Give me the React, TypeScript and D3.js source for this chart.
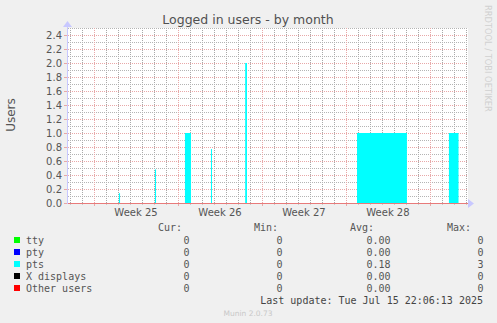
import React from "react";
import * as d3 from "d3";

const title = "Logged in users - by month";
const yLabel = "Users";
const yTicks = [0, 0.2, 0.4, 0.6, 0.8, 1.0, 1.2, 1.4, 1.6, 1.8, 2.0, 2.2, 2.4];
const weekLabels = ["Week 25", "Week 26", "Week 27", "Week 28"];
const weekStartDays = [0, 7, 14, 21];

// pts samples (days since start of Week 25, value)
const ptsStart = [2.08, 5.08, 7.58, 9.75, 12.6, 21.92, 29.58];
const ptsEnd = [2.17, 5.17, 8.08, 9.83, 12.75, 26.08, 30.38];
const ptsValue = [0.14, 0.48, 1.0, 0.77, 2.0, 1.0, 1.0];

const legendNames = ["tty", "pty", "pts", "X displays", "Other users"];
const legendColors = ["#00ff00", "#0000ff", "#00ffff", "#000000", "#ff0000"];
const curVals = ["0", "0", "0", "0", "0"];
const minVals = ["0", "0", "0", "0", "0"];
const avgVals = ["0.00", "0.00", "0.18", "0.00", "0.00"];
const maxVals = ["0", "0", "3", "0", "0"];

const lastUpdate = "Last update: Tue Jul 15 22:06:13 2025";
const footer = "Munin 2.0.73";
const sideText = "RRDTOOL / TOBI OETIKER";

export default function App() {
  const W = 497, H = 323;
  const left = 67, right = 468, top = 28, bottom = 203;
  const x = d3.scaleLinear().domain([-2.25, 31.17]).range([left, right]);
  const y = d3.scaleLinear().domain([0, 2.5]).range([bottom, top]);
  const minorDays = d3.range(-2, 32);
  const minorY = d3.range(0.1, 2.51, 0.2);
  const mono = "'DejaVu Sans Mono', monospace";
  const sans = "'DejaVu Sans', sans-serif";
  const rowY = [240, 252, 264, 276, 288];
  const r = (v: number) => Math.round(v);
  const gray = "#b4b4b4";
  const red = "#e8a8a8";

  // dotted vertical minor grid built as one path of 1x1 dots
  const vPath = d3.path();
  minorDays.filter(d => d % 7 !== 0).forEach(d => {
    const xx = r(x(d));
    for (let yy = top; yy < bottom; yy += 2) {
      vPath.rect(xx, yy, 1, 1);
    }
  });

  return (
    <svg width={W} height={H} style={{ position: "absolute", left: 0, top: 0, display: "block" }}>
      <defs>
        <pattern id="hg" patternUnits="userSpaceOnUse" width={2} height={1}>
          <rect x={0} y={0} width={1} height={1} fill={gray} />
        </pattern>
        <pattern id="vr" patternUnits="userSpaceOnUse" width={1} height={2}>
          <rect x={0} y={0} width={1} height={1} fill={red} />
        </pattern>
        <pattern id="hr" patternUnits="userSpaceOnUse" width={2} height={1}>
          <rect x={0} y={0} width={1} height={1} fill={red} />
        </pattern>
      </defs>
      <rect x={0} y={0} width={W} height={H} fill="#f0f0f0" />
      <rect x={left} y={top} width={right - left} height={bottom - top} fill="#ffffff" />
      <g shapeRendering="crispEdges">
        <path d={vPath.toString()} fill="#a8a8a8" />
        {minorY.map(v => (
          <rect key={"mh" + v} x={left} y={r(y(v))} width={right - left} height={1} fill="url(#hg)" />
        ))}
        {yTicks.map(v => (
          <rect key={"Mh" + v} x={left} y={r(y(v))} width={right - left} height={1} fill="url(#hr)" />
        ))}
        {[0, 7, 14, 21, 28].map(d => (
          <rect key={"Mv" + d} x={r(x(d))} y={top} width={1} height={bottom - top} fill="url(#vr)" />
        ))}
        {minorDays.map(d => (
          <rect key={"tx" + d} x={r(x(d))} y={bottom} width={1} height={d % 7 === 0 ? 3 : 2}
            fill={d % 7 === 0 ? "#e8a8a8" : "#cccccc"} />
        ))}
        {yTicks.map(v => (
          <rect key={"ty" + v} x={left - 3} y={r(y(v))} width={3} height={1} fill="#e8a8a8" />
        ))}
      </g>
      {ptsValue.map((v, i) => (
        <rect key={"p" + i} x={x(ptsStart[i])} y={y(v)} width={Math.max(1, x(ptsEnd[i]) - x(ptsStart[i]))}
          height={bottom - y(v)} fill="#00ffff" />
      ))}
      <line x1={left} x2={right} y1={bottom + 0.5} y2={bottom + 0.5} stroke="#e87a7a" />
      <line x1={left + 0.5} x2={left + 0.5} y1={top - 4} y2={bottom + 1} stroke="#c8c8ff" />
      <path d={`M${left - 4},${top - 1} L${left + 5},${top - 1} L${left + 0.5},${top - 7} Z`} fill="#c8c8ff" />
      <path d={`M${right},${bottom - 4} L${right},${bottom + 5} L${right + 6},${bottom + 0.5} Z`} fill="#c8c8ff" />
      {yTicks.map(v => (
        <text key={"yl" + v} x={62} y={y(v) + 3.5} textAnchor="end" fontFamily={sans} fontSize={10} fill="#555555">
          {v.toFixed(1)}
        </text>
      ))}
      {weekLabels.map((w, i) => (
        <text key={w} x={x(weekStartDays[i] + 3.5)} y={216} textAnchor="middle" fontFamily={sans} fontSize={10} fill="#555555">
          {w}
        </text>
      ))}
      <text x={248} y={24} textAnchor="middle" fontFamily={sans} fontSize={12.5} fill="#505050">{title}</text>
      <text transform="translate(15,115) rotate(-90)" textAnchor="middle" fontFamily={sans} fontSize={12} fill="#555555">{yLabel}</text>
      <text transform="translate(485,5) rotate(90)" textAnchor="start" fontFamily={sans} fontSize={8.3} fill="#d0d0d0">{sideText}</text>
      <text x={182} y={231} textAnchor="end" fontFamily={mono} fontSize={10} fill="#555555">Cur:</text>
      <text x={254} y={231} fontFamily={mono} fontSize={10} fill="#555555">Min:</text>
      <text x={350} y={231} fontFamily={mono} fontSize={10} fill="#555555">Avg:</text>
      <text x={447} y={231} fontFamily={mono} fontSize={10} fill="#555555">Max:</text>
      {legendNames.map((n, i) => (
        <g key={n}>
          <rect x={14} y={rowY[i] - 3} width={6} height={6} fill={legendColors[i]} />
          <text x={26} y={rowY[i] + 3.5} fontFamily={mono} fontSize={10} fill="#555555">{n}</text>
          <text x={189.5} y={rowY[i] + 3.5} textAnchor="end" fontFamily={mono} fontSize={10} fill="#555555">{curVals[i]}</text>
          <text x={282.5} y={rowY[i] + 3.5} textAnchor="end" fontFamily={mono} fontSize={10} fill="#555555">{minVals[i]}</text>
          <text x={390.5} y={rowY[i] + 3.5} textAnchor="end" fontFamily={mono} fontSize={10} fill="#555555">{avgVals[i]}</text>
          <text x={483.5} y={rowY[i] + 3.5} textAnchor="end" fontFamily={mono} fontSize={10} fill="#555555">{maxVals[i]}</text>
        </g>
      ))}
      <text x={483} y={303.5} textAnchor="end" fontFamily={mono} fontSize={10} fill="#444444">{lastUpdate}</text>
      <text x={248} y={316} textAnchor="middle" fontFamily={sans} fontSize={7.5} fill="#c8c8c8">{footer}</text>
    </svg>
  );
}
